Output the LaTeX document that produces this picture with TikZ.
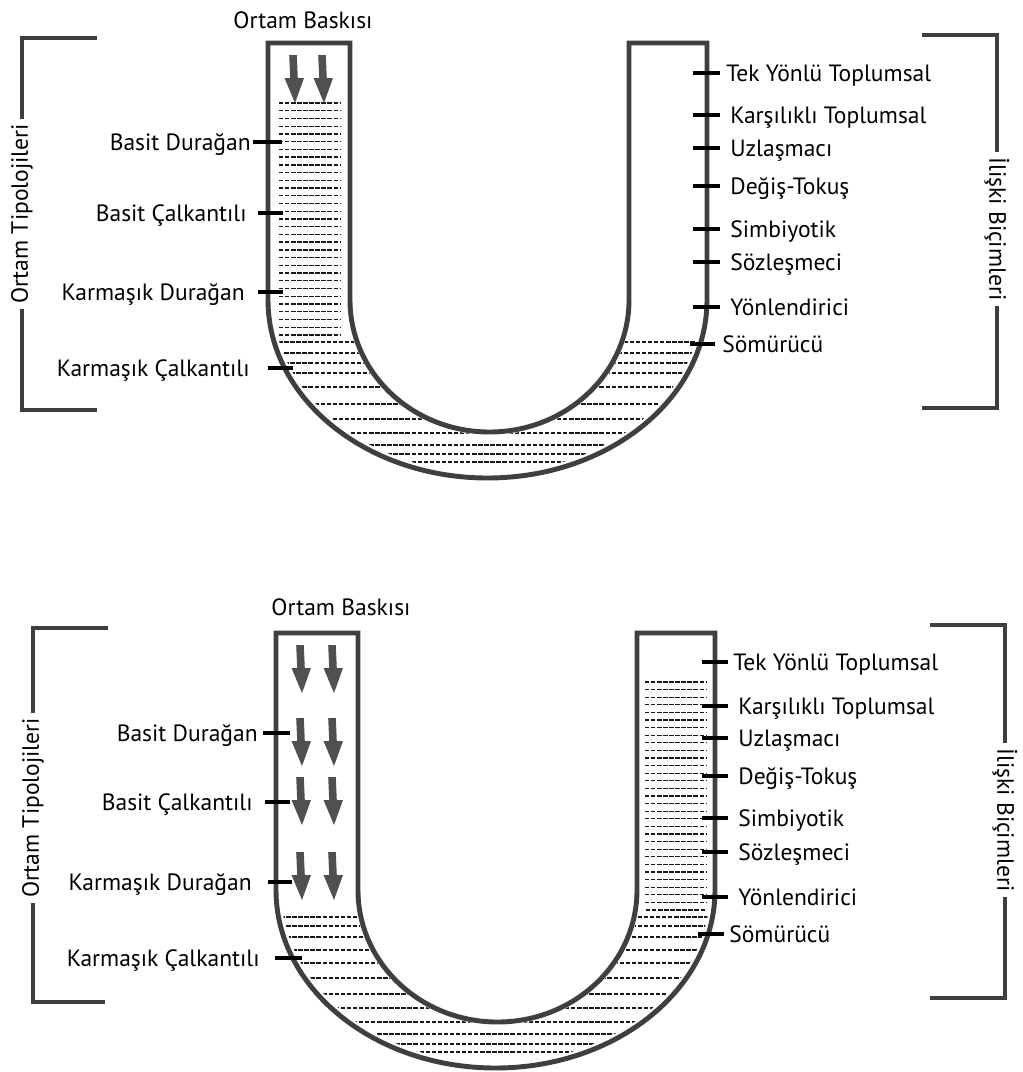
\documentclass[tikz,border=0pt]{standalone}
\usepackage{fontspec}
\setmainfont{PT Sans}
\definecolor{wall}{HTML}{3F3F3F}
\definecolor{press}{HTML}{505050}
\begin{document}
\begin{tikzpicture}[x=0.02cm,y=-0.02cm,
        tube/.style={draw=wall,line width=2.8pt},
        bracket/.style={draw=wall,line width=2.8pt},
        tick/.style={draw=black,line width=2.8pt},
        fluid/.style={draw=black!90,line width=0.75pt,dash pattern=on 2.5pt off 0.95pt},
        lab/.style={inner sep=0pt,font=\fontsize{13.4}{16}\selectfont},
        side/.style={lab,inner sep=2.8pt},
        pressarrow/.pic={\fill[press] (-3.8,0) -- (3.8,0) -- (4.8,23) -- (11,23) -- (2,48) -- (-8.5,23) -- (-2.8,23) -- cycle;}]
        \useasboundingbox (0,0) rectangle (1023,1072);
        % upper tube
        \begin{scope}
          \clip (273,290) -- (273,300) arc (180:0:214.5 and 173) -- (702,290) -- (632,290) -- (632,300) arc (0:180:142.5 and 135) -- (347,290) -- cycle;
          \foreach \y in {342,353,363,373,387,404,419,433,445,454,462}
            \draw[fluid] (260,\y) -- (720,\y);
        \end{scope}
        \foreach \i in {0,...,30}
          \draw[fluid] (279,103+7.73*\i) -- (341,103+7.73*\i);
        \draw[tube] (268,43) -- (268,300) arc (180:0:219.5 and 178) -- (707,43) -- (629,43) -- (629,300) arc (0:180:139.5 and 132) -- (350,43) -- cycle;
        \pic at (293,55) {pressarrow};
        \pic at (322,55) {pressarrow};
        \node[lab] (baski1) at (303,20) {Ortam Baskısı};
        \foreach \n/\y/\lx/\ta/\tb/\t in {bd1/142/251/253/282/Basit Durağan,
            bc1/213/247/258/283/Basit Çalkantılı,
            kd1/292/245/258/283/Karmaşık Durağan,
            kc1/368/250/268/293/Karmaşık Çalkantılı}{
          \node[lab,anchor=base east] (\n) at (\lx,\y+8) {\t};
          \draw[tick] (\ta,\y) -- (\tb,\y);
        }
        \foreach \n/\y/\lx/\ta/\tb/\t in {ty1/73/726/693/720/Tek Yönlü Toplumsal,
            kt1/115/730/693/720/Karşılıklı Toplumsal,
            uz1/148/730/693/720/Uzlaşmacı,
            dt1/186/730/693/720/Değiş-Tokuş,
            sb1/229/730/693/720/Simbiyotik,
            sz1/262/730/693/720/Sözleşmeci,
            yn1/307/730/693/720/Yönlendirici,
            sm1/344/722/690/715/Sömürücü}{
          \node[lab,anchor=base west] (\n) at (\lx,\y+8) {\t};
          \draw[tick] (\ta,\y) -- (\tb,\y);
        }
        \node[side,rotate=90] (tipo1) at (22,214) {Ortam Tipolojileri};
        \draw[bracket] (97,38) -- (22,38) -- (tipo1.east);
        \draw[bracket] (tipo1.west) -- (22,410) -- (97,410);
        \node[side,rotate=-90] (bici1) at (997,229) {İlişki Biçimleri};
        \draw[bracket] (922,35) -- (997,35) -- (bici1.west);
        \draw[bracket] (bici1.east) -- (997,408) -- (922,408);
        % lower tube
        \begin{scope}[shift={(8,590)}]
          \begin{scope}
            \clip (273,290) -- (273,300) arc (180:0:214.5 and 173) -- (702,290) -- (632,290) -- (632,300) arc (0:180:142.5 and 135) -- (347,290) -- cycle;
            \foreach \y in {327,336,347,360,373,388,404,418,432,444,454,462}
              \draw[fluid] (260,\y) -- (720,\y);
          \end{scope}
          \foreach \i in {0,...,29}
            \draw[fluid] (637,92+7.6*\i) -- (698,92+7.6*\i);
          \draw[fluid] (638,320) -- (698,320);
          \draw[tube] (268,43) -- (268,300) arc (180:0:219.5 and 178) -- (707,43) -- (629,43) -- (629,300) arc (0:180:139.5 and 132) -- (350,43) -- cycle;
        \end{scope}
        \foreach \y in {645,718,777,852}{
          \pic at (300,\y) {pressarrow};
          \pic at (332,\y) {pressarrow};
        }
        \node[lab] (baski2) at (341,607) {Ortam Baskısı};
        \foreach \n/\y/\lx/\ta/\tb/\t in {bd2/733/258/263/290/Basit Durağan,
            bc2/802/253/265/290/Basit Çalkantılı,
            kd2/882/252/268/292/Karmaşık Durağan,
            kc2/958/260/275/302/Karmaşık Çalkantılı}{
          \node[lab,anchor=base east] (\n) at (\lx,\y+8) {\t};
          \draw[tick] (\ta,\y) -- (\tb,\y);
        }
        \foreach \n/\y/\lx/\ta/\tb/\t in {ty2/662/733/702/728/Tek Yönlü Toplumsal,
            kt2/706/738/702/728/Karşılıklı Toplumsal,
            uz2/738/738/702/728/Uzlaşmacı,
            dt2/776/738/702/728/Değiş-Tokuş,
            sb2/818/738/702/728/Simbiyotik,
            sz2/852/738/702/728/Sözleşmeci,
            yn2/897/738/702/728/Yönlendirici,
            sm2/934/729/698/724/Sömürücü}{
          \node[lab,anchor=base west] (\n) at (\lx,\y+8) {\t};
          \draw[tick] (\ta,\y) -- (\tb,\y);
        }
        \node[side,rotate=90] (tipo2) at (33,808) {Ortam Tipolojileri};
        \draw[bracket] (108,628) -- (33,628) -- (tipo2.east);
        \draw[bracket] (tipo2.west) -- (33,1002) -- (105,1002);
        \node[side,rotate=-90] (bici2) at (1005,820) {İlişki Biçimleri};
        \draw[bracket] (930,625) -- (1005,625) -- (bici2.west);
        \draw[bracket] (bici2.east) -- (1005,998) -- (930,998);
\end{tikzpicture}
\end{document}
